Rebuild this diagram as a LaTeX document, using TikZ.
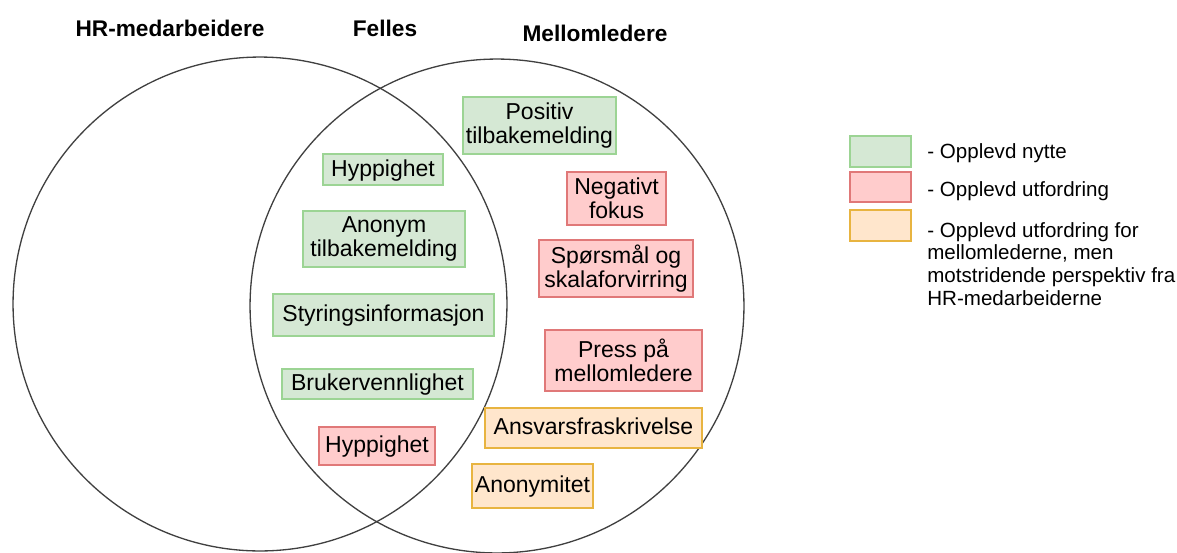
\documentclass[tikz,border=0pt]{standalone}
\usepackage{fontspec}
\setmainfont{Liberation Sans}
\usepackage{xcolor}
\usepackage{tikz}

\definecolor{nyttefill}{HTML}{D5E8D4}
\definecolor{nyttelinje}{HTML}{9CD494}
\definecolor{utfordfill}{HTML}{FFCCCC}
\definecolor{utfordlinje}{HTML}{E07878}
\definecolor{motfill}{HTML}{FFE6CC}
\definecolor{motlinje}{HTML}{E8B440}
\definecolor{vennlinje}{HTML}{404040}

\tikzset{
	boks/.style={draw, line width=0.7pt, align=center, inner sep=0pt,
		font=\fontsize{13.1}{13.8}\selectfont},
	enlinje/.style={text height=0.75em, text depth=0pt},
	bredde/.style={minimum width=#1*0.02cm},
	hoyde/.style={minimum height=#1*0.02cm},
	nytte/.style={boks, fill=nyttefill, draw=nyttelinje},
	utford/.style={boks, fill=utfordfill, draw=utfordlinje},
	motstrid/.style={boks, fill=motfill, draw=motlinje},
	venn/.style={circle, draw=vennlinje, line width=0.75pt, inner sep=0pt, minimum size=9.88cm},
	overskrift/.style={anchor=base, inner sep=0pt, font=\fontsize{12.9}{14}\selectfont\bfseries},
	forklaring/.style={anchor=base west, inner sep=0pt, align=left,
		font=\fontsize{11.7}{12.9}\selectfont},
}

\begin{document}
\begin{tikzpicture}[x=0.02cm, y=-0.02cm]
	\useasboundingbox (0,0) rectangle (1177,552);
	%
	\node[venn] (hr) at (260,304) {};
	\node[venn] (ml) at (497,306) {};
	%
	\node[overskrift] (thr) at (170,36) {HR-medarbeidere};
	\node[overskrift] (tfelles) at (385,36) {Felles};
	\node[overskrift] (tml) at (595,41) {Mellomledere};
	%
	\node[nytte, bredde=153, hoyde=57] (positiv) at (539.5,125.5) {Positiv\\tilbakemelding};
	\node[nytte, enlinje, bredde=120, hoyde=31] (hyppig1) at (383,169.5) {Hyppighet};
	\node[nytte, bredde=162, hoyde=56] (anonym) at (384,239) {Anonym\\tilbakemelding};
	\node[nytte, enlinje, bredde=221, hoyde=42] (styring) at (383.5,315) {Styringsinformasjon};
	\node[nytte, enlinje, bredde=191, hoyde=30] (bruker) at (377.5,384) {Brukervennlighet};
	\node[utford, enlinje, bredde=116, hoyde=38] (hyppig2) at (377,446) {Hyppighet};
	\node[utford, bredde=99, hoyde=53] (negativ) at (616.5,198.5) {Negativt\\fokus};
	\node[utford, bredde=154, hoyde=57] (skala) at (616,268.5) {Spørsmål og\\skalaforvirring};
	\node[utford, bredde=157, hoyde=61] (press) at (623.5,360.5) {Press på\\mellomledere};
	\node[motstrid, enlinje, bredde=217, hoyde=40] (ansvar) at (593.5,428) {Ansvarsfraskrivelse};
	\node[motstrid, enlinje, bredde=121, hoyde=44] (anonymitet) at (532.5,486) {Anonymitet};
	%
	\node[nytte, bredde=61, hoyde=31] (fnytte) at (880.5,151.5) {};
	\node[utford, bredde=61, hoyde=30] (futford) at (880.5,187) {};
	\node[motstrid, bredde=61, hoyde=31] (fmot) at (880.5,225.5) {};
	\node[forklaring] (tnytte) at (927,158) {- Opplevd nytte};
	\node[forklaring] (tutford) at (927,196) {- Opplevd utfordring};
	\node[forklaring, anchor=north west] (tmot) at (927,222) {- Opplevd utfordring for\\mellomlederne, men\\motstridende perspektiv fra\\HR-medarbeiderne};
\end{tikzpicture}
\end{document}
